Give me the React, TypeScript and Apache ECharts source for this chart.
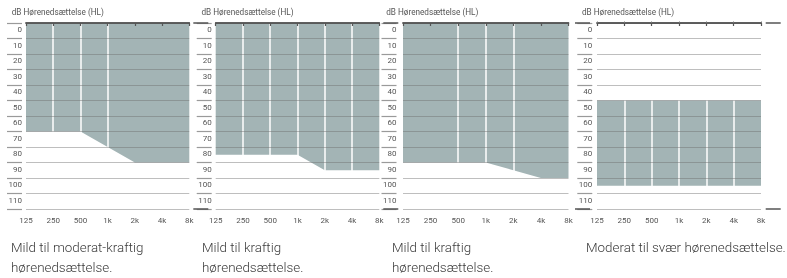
import React, { useEffect, useRef } from "react";
import * as echarts from "echarts";

// ---- data ----
const freqs = ["125", "250", "500", "1k", "2k", "4k", "8k"];
const dbMax = 120;
const dbStep = 10;
const titleText = "dB Hørenedsættelse (HL)";

const p1Top = [0, 0, 0, 0, 0, 0, 0];
const p1Bottom = [70, 70, 70, 80, 90, 90, 90];
const p2Top = [0, 0, 0, 0, 0, 0, 0];
const p2Bottom = [85, 85, 85, 85, 95, 95, 95];
const p3Top = [0, 0, 0, 0, 0, 0, 0];
const p3Bottom = [90, 90, 90, 90, 95, 100, 100];
const p4Top = [50, 50, 50, 50, 50, 50, 50];
const p4Bottom = [105, 105, 105, 105, 105, 105, 105];

const white1 = ["250", "500", "1k"];
const white2 = ["250", "500", "1k", "2k", "4k"];
const white3 = ["500", "1k", "2k"];
const white4 = ["250", "500", "1k", "2k", "4k"];

const captions = [
  "Mild til moderat-kraftig\nhørenedsættelse.",
  "Mild til kraftig\nhørenedsættelse.",
  "Mild til kraftig\nhørenedsættelse.",
  "Moderat til svær hørenedsættelse.",
];

// ---- layout ----
const panels = [
  { top: p1Top, bottom: p1Bottom, white: white1, left: 26, width: 163.3, off: 4, topTicks: false, capX: 11 },
  { top: p2Top, bottom: p2Bottom, white: white2, left: 215.7, width: 163.6, off: 4, topTicks: false, capX: 202 },
  { top: p3Top, bottom: p3Bottom, white: white3, left: 403, width: 165.5, off: 6.5, topTicks: false, capX: 392 },
  { top: p4Top, bottom: p4Bottom, white: white4, left: 597, width: 164, off: 4.7, topTicks: true, capX: 586 },
];

const FILL = "#a3b4b5";
const DARK = "#555";
const FONT = "Roboto";

export default function App() {
  const ref = useRef<HTMLDivElement>(null);
  useEffect(() => {
    if (!ref.current) return;
    const chart = echarts.init(ref.current, null, { renderer: "svg" });
    const grid: any[] = [];
    const xAxis: any[] = [];
    const yAxis: any[] = [];
    const series: any[] = [];
    const graphic: any[] = [];
    panels.forEach((p, i) => {
      grid.push({ left: p.left, top: 23, width: p.width, height: 186 });
      // bottom axis
      xAxis.push({
        type: "category", gridIndex: i, data: freqs, boundaryGap: false, position: "bottom", z: 10,
        axisLine: { show: true, lineStyle: { color: DARK, width: 1.5 } },
        axisTick: { show: true, length: 3, lineStyle: { color: DARK, width: 1.2 } },
        axisLabel: { show: true, color: "#555", fontSize: 8, fontFamily: FONT, margin: 7.5, interval: 0 },
        splitLine: { show: false },
      });
      // top axis line
      xAxis.push({
        type: "category", gridIndex: i, data: freqs, boundaryGap: false, position: "top", z: 10,
        axisLine: { show: true, lineStyle: { color: DARK, width: 1.5 } },
        axisTick: { show: p.topTicks, length: 1.5, lineStyle: { color: "#777", width: 1 } },
        axisLabel: { show: false },
        splitLine: { show: false },
      });
      const segEnd = p.left - p.off;
      yAxis.push({
        type: "value", gridIndex: i, min: 0, max: dbMax, interval: dbStep, inverse: true, offset: p.off, z: 10,
        axisLine: { show: false },
        axisTick: { show: true, length: 15, lineStyle: { color: "#9a9a9a", width: 1.2 } },
        axisLabel: {
          show: true, color: "#555", fontSize: 8, fontFamily: FONT, margin: 0, verticalAlign: "top",
          lineHeight: 9, padding: [2, 0, 0, 0],
          formatter: (v: number) => (v >= dbMax ? "" : String(v)),
        },
        splitLine: { show: true, lineStyle: { color: "rgba(110,110,110,0.45)", width: 1.2 } },
      });
      yAxis.push({
        type: "value", gridIndex: i, min: 0, max: dbMax, interval: dbMax, inverse: true, offset: p.off, z: 11,
        axisLine: { show: false },
        axisTick: { show: true, length: 15, lineStyle: { color: DARK, width: 1.5 } },
        axisLabel: { show: false },
        splitLine: { show: false },
      });
      const band = p.bottom.map((b, k) => b - p.top[k]);
      series.push({
        type: "line", xAxisIndex: i * 2, yAxisIndex: i * 2, stack: "s" + i, data: p.top,
        symbol: "none", showSymbol: false, silent: true, lineStyle: { width: 0, opacity: 0 }, z: 2,
      });
      series.push({
        type: "line", xAxisIndex: i * 2, yAxisIndex: i * 2, stack: "s" + i, data: band,
        symbol: "none", showSymbol: false, silent: true, lineStyle: { width: 0, opacity: 0 },
        areaStyle: { color: FILL, opacity: 1 }, z: 2,
        markLine: {
          silent: true, symbol: "none", label: { show: false },
          lineStyle: { color: "#ffffff", width: 1.5, type: "solid" },
          data: p.white.map((c) => ({ xAxis: c })),
        },
      });
      graphic.push({
        type: "text", left: segEnd - 10.3, top: 8,
        style: { text: titleText, fill: "#555", fontSize: 8.2, fontFamily: FONT },
      });
      graphic.push({
        type: "text", left: p.capX, top: 237,
        style: { text: captions[i], fill: "#3a3a3a", fontSize: 13.4, fontFamily: FONT, fontWeight: 300, lineHeight: 20 },
      });
    });
    chart.setOption({ animation: false, grid, xAxis, yAxis, series, graphic });
    return () => chart.dispose();
  }, []);
  return <div ref={ref} style={{ position: "fixed", left: 0, top: 0, width: 787, height: 278 }} />;
}
